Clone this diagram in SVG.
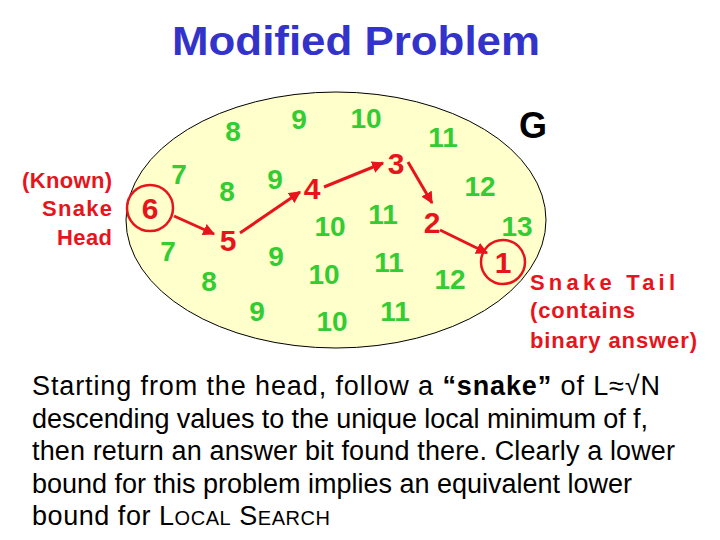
<svg xmlns="http://www.w3.org/2000/svg" width="720" height="540" viewBox="0 0 720 540">
<style>
text{font-family:"Liberation Sans",Arial,sans-serif}
.g{fill:#33cc33;font-size:28px;font-weight:bold;text-anchor:middle}
.r{fill:#e8141c;font-size:30px;font-weight:bold;text-anchor:middle}
.lbl{fill:#e8141c;font-size:22px;font-weight:bold}
.body{font-size:27px;fill:#000}
.a{stroke:#e8141c;stroke-width:3;fill:none;marker-end:url(#ah)}
</style>
<defs><marker id="ah" viewBox="0 0 10 10" refX="9" refY="5" markerWidth="4" markerHeight="4" orient="auto"><path d="M0,0L10,5L0,10z" fill="#e8141c"/></marker></defs>
<rect width="720" height="540" fill="#fff"/>
<text x="172" y="55" font-size="40" font-weight="bold" fill="#3333cc" textLength="368" lengthAdjust="spacingAndGlyphs">Modified Problem</text>
<g id="graph"><ellipse cx="336" cy="220" rx="210" ry="128" fill="#ffffcc" stroke="#000" stroke-width="1"/></g>
<text x="533" y="138" text-anchor="middle" font-size="36" font-weight="bold">G</text>
<g id="numbers">
<text class="g" x="233" y="141">8</text><text class="g" x="299" y="129">9</text><text class="g" x="366" y="128">10</text><text class="g" x="443" y="147">11</text>
<text class="g" x="179" y="184">7</text><text class="g" x="227" y="201">8</text><text class="g" x="275" y="189">9</text><text class="g" x="480" y="196">12</text>
<text class="g" x="330" y="236">10</text><text class="g" x="383" y="224">11</text><text class="g" x="517" y="236">13</text>
<text class="g" x="168" y="261">7</text><text class="g" x="276" y="266">9</text><text class="g" x="324" y="284">10</text><text class="g" x="389" y="272">11</text>
<text class="g" x="209" y="291">8</text><text class="g" x="450" y="289">12</text>
<text class="g" x="257" y="321">9</text><text class="g" x="332" y="331">10</text><text class="g" x="395" y="321">11</text>
</g>
<g id="head"><circle cx="150" cy="208" r="23" fill="none" stroke="#e8141c" stroke-width="2.5"/><text class="r" x="150" y="219">6</text></g>
<g id="n5"><text class="r" x="228" y="251">5</text></g>
<g id="n4"><text class="r" x="312" y="199">4</text></g>
<g id="n3"><text class="r" x="396" y="174">3</text></g>
<g id="n2"><text class="r" x="432" y="233">2</text></g>
<g id="tail"><circle cx="503" cy="262" r="22" fill="none" stroke="#e8141c" stroke-width="2.5"/><text class="r" x="503" y="273">1</text></g>
<g id="connectors">
<line class="a" x1="174" y1="216" x2="214" y2="234"/>
<line class="a" x1="240" y1="233" x2="300" y2="192"/>
<line class="a" x1="324" y1="187" x2="383" y2="163"/>
<line class="a" x1="408" y1="162" x2="432" y2="203"/>
<line class="a" x1="440" y1="230" x2="487" y2="253"/>
</g>
<text class="lbl" lengthAdjust="spacingAndGlyphs"><tspan x="22" y="188" textLength="90">(Known)</tspan><tspan x="42" y="216" textLength="70">Snake</tspan><tspan x="57" y="245" textLength="55">Head</tspan></text>
<text class="lbl" lengthAdjust="spacingAndGlyphs"><tspan x="530" y="290" textLength="145">Snake Tail</tspan><tspan x="530" y="318" textLength="105">(contains</tspan><tspan x="530" y="348" textLength="167">binary answer)</tspan></text>
<text class="body" lengthAdjust="spacingAndGlyphs"><tspan x="32" y="395" textLength="628">Starting from the head, follow a <tspan font-weight="bold">“snake”</tspan> of L≈√N</tspan><tspan x="32" y="428" textLength="616">descending values to the unique local minimum of f,</tspan><tspan x="32" y="460" textLength="643">then return an answer bit found there.  Clearly a lower</tspan><tspan x="32" y="493" textLength="600">bound for this problem implies an equivalent lower</tspan><tspan x="32" y="525" textLength="298">bound for L<tspan font-size="20">OCAL</tspan> S<tspan font-size="20">EARCH</tspan></tspan></text>
</svg>
